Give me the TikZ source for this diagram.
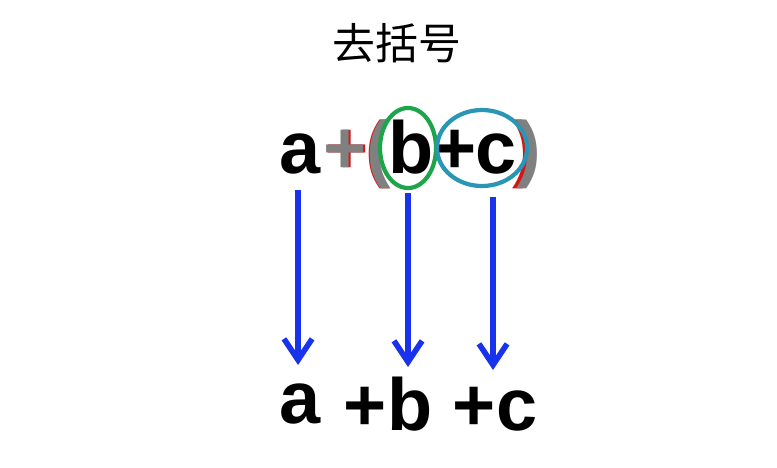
\documentclass[tikz,border=0pt]{standalone}
\usepackage{fontspec}
\setmainfont{Liberation Sans}
\newfontfamily\cjk{Noto Sans CJK SC}
\usetikzlibrary{arrows.meta}

\definecolor{arrowblue}{RGB}{25,50,235}
\definecolor{ringgreen}{RGB}{30,165,75}
\definecolor{ringteal}{RGB}{40,150,180}
\definecolor{cutred}{RGB}{215,20,20}

% gray glyph with a red copy shifted by #1
\newcommand\cutglyph[2]{\makebox[0pt][l]{\kern#1\textcolor{cutred}{#2}}\textcolor{gray}{#2}}

\tikzset{
  glyph/.style={inner sep=0pt,anchor=base,font=\fontsize{21}{25}\selectfont\bfseries},
  ring/.style={line width=1.2pt},
  down/.style={arrowblue,line width=1.6pt,-{Straight Barb[length=6pt,width=8pt,line width=1.6pt]}}
}

\begin{document}
\begin{tikzpicture}[x=0.01cm,y=-0.01cm]
  \useasboundingbox (0,0) rectangle (777,467);
  \def\topy{173}

  \node[font=\cjk\fontsize{12.2}{14}\selectfont] (title) at (397,43) {去括号};

  % a+(b+c)
  \node[glyph] (ta) at (300,\topy) {a};
  \node[glyph] (tplus) at (345,\topy) {\cutglyph{0.5pt}{+}};
  \node[glyph] (lpar) at (379,\topy) {\cutglyph{-0.4pt}{(}};
  \node[glyph] (tb) at (411,\topy) {b};
  \node[glyph] (tpb) at (455,\topy) {+};
  \node[glyph] (tc) at (496,\topy) {c};
  \node[glyph] (rpar) at (529,\topy) {\cutglyph{-1.2pt}{)}};

  \draw[ring,ringgreen] (408,148) ellipse [x radius=28, y radius=40];
  \draw[ring,ringteal] (482,148) ellipse [x radius=45, y radius=38];

  % a +b +c
  \node[glyph] (ba) at (300,423) {a};
  \node[glyph] (bb) at (388,430) {+b};
  \node[glyph] (bc) at (495,430) {+c};

  \coordinate (s1) at (298,190);
  \coordinate (e1) at (298,365);
  \coordinate (s2) at (408,193);
  \coordinate (e2) at (408,367);
  \coordinate (s3) at (493,197);
  \coordinate (e3) at (493,370);
  \foreach \i in {1,2,3}
    \draw[down] (s\i)--(e\i);
\end{tikzpicture}
\end{document}
